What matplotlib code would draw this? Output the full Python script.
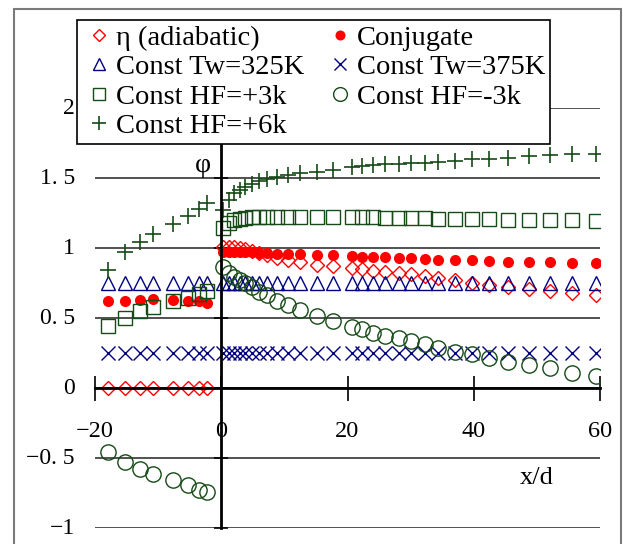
import matplotlib
matplotlib.use("Agg")
import matplotlib.pyplot as plt
from matplotlib.patches import Rectangle

plt.rcParams["font.family"] = ["Liberation Serif", "DejaVu Serif"]

# x/d positions: upstream (before the hole) and downstream
x_up = [-17.9, -15.2, -12.8, -10.8, -7.6, -5.3, -3.6, -2.3]
x_down = [0.3, 1.2, 2.0, 2.9, 3.8, 4.9, 6.0, 7.2, 8.8, 10.6, 12.5, 15.1, 17.7,
          20.7, 22.3, 24.0, 25.9, 28.1, 30.0, 32.3, 34.4, 37.1, 39.7, 42.4,
          45.5, 48.7, 52.0, 55.5, 59.3]

eta_up = [0, 0, 0, 0, 0, 0, 0, 0]
eta_down = [1.01, 1.01, 1.005, 1.0, 0.99, 0.978, 0.962, 0.948, 0.928, 0.912,
            0.898, 0.88, 0.87, 0.855, 0.848, 0.838, 0.831, 0.824, 0.812, 0.797,
            0.785, 0.768, 0.752, 0.738, 0.72, 0.705, 0.692, 0.68, 0.665]

conj_up = [0.62, 0.62, 0.63, 0.635, 0.63, 0.625, 0.62, 0.61]
conj_down = [0.975, 0.975, 0.973, 0.972, 0.97, 0.968, 0.966, 0.963, 0.96,
             0.957, 0.954, 0.951, 0.948, 0.943, 0.938, 0.938, 0.933, 0.928,
             0.926, 0.921, 0.915, 0.914, 0.912, 0.904, 0.902, 0.901, 0.897,
             0.896, 0.895]

tw325_up = [0.75] * 8
tw325_down = [0.75] * 29
tw375_up = [0.25] * 8
tw375_down = [0.25] * 29

hf3_up = [0.44, 0.50, 0.55, 0.58, 0.62, 0.645, 0.67, 0.695]
hf3_down = [1.14, 1.18, 1.20, 1.21, 1.215, 1.218, 1.22, 1.222, 1.222, 1.222,
            1.222, 1.222, 1.222, 1.219, 1.219, 1.219, 1.217, 1.213, 1.212,
            1.212, 1.21, 1.207, 1.205, 1.204, 1.203, 1.2, 1.199, 1.197, 1.193]

hfm3_up = [-0.46, -0.53, -0.575, -0.615, -0.66, -0.695, -0.725, -0.74]
hfm3_down = [0.862, 0.824, 0.795, 0.771, 0.748, 0.719, 0.688, 0.664, 0.624,
             0.593, 0.557, 0.514, 0.481, 0.438, 0.419, 0.395, 0.374, 0.355,
             0.338, 0.312, 0.283, 0.259, 0.24, 0.217, 0.188, 0.164, 0.141,
             0.109, 0.088]

hf6_up = [0.84, 0.975, 1.045, 1.10, 1.17, 1.23, 1.28, 1.32]
hf6_down = [1.27, 1.34, 1.39, 1.414, 1.438, 1.46, 1.478, 1.49, 1.505, 1.52,
            1.535, 1.545, 1.557, 1.576, 1.588, 1.593, 1.598, 1.6, 1.605, 1.609,
            1.616, 1.624, 1.633, 1.635, 1.64, 1.657, 1.664, 1.671, 1.673]

y_ticks = [-1, -0.5, 0, 0.5, 1, 1.5, 2]
y_labels = ["\u22121", "\u22120. 5", "0", "0. 5", "1", "1. 5", "2"]
x_ticks = [-20, 0, 20, 40, 60]
x_labels = ["\u221220", "0", "20", "40", "60"]

red = "#ff0000"
navy = "#000080"
green = "#164a16"

fig = plt.figure(figsize=(6.23, 5.44), dpi=100)
ax = fig.add_axes([95 / 623, 16 / 544, 505 / 623, 420 / 544])

series = [
    ("\u03b7 (adiabatic)", eta_up, eta_down,
     dict(marker="D", ms=6.8, mfc="none", mec=red, mew=1.0)),
    ("Const Tw=325K", tw325_up, tw325_down,
     dict(marker="^", ms=9.5, mfc="none", mec=navy, mew=1.0)),
    ("Const HF=+3k", hf3_up, hf3_down,
     dict(marker="s", ms=9.5, mfc="none", mec=green, mew=1.0)),
    ("Const HF=+6k", hf6_up, hf6_down,
     dict(marker="+", ms=11.5, mec=green, mew=1.2)),
    ("Conjugate", conj_up, conj_down,
     dict(marker="o", ms=8, mfc=red, mec=red, mew=0)),
    ("Const Tw=375K", tw375_up, tw375_down,
     dict(marker="x", ms=9.5, mec=navy, mew=1.0)),
    ("Const HF=-3k", hfm3_up, hfm3_down,
     dict(marker="o", ms=11, mfc="none", mec=green, mew=1.0)),
]

draw_order = [0, 4, 1, 5, 2, 6, 3]
handles = {}
for i in draw_order:
    label, yu, yd, style = series[i]
    h, = ax.plot(x_up + x_down, yu + yd, ls="none", label=label, **style)
    handles[i] = h

ax.set_xlim(-20, 60)
ax.set_ylim(-1, 2)

for s in ["top", "right"]:
    ax.spines[s].set_visible(False)
ax.spines["left"].set_position(("data", 0))
ax.spines["bottom"].set_position(("data", 0))
ax.spines["left"].set_linewidth(2)
ax.spines["bottom"].set_linewidth(2)

ax.set_yticks(y_ticks)
ax.set_yticklabels([])
ax.tick_params(axis="y", direction="inout", length=10, width=1.2)
ax.set_xticks(x_ticks)
ax.set_xticklabels(x_labels, fontsize=17.5)
ax.tick_params(axis="x", direction="inout", length=18, width=1.2, pad=15)
ax.yaxis.grid(True, color="#222222", lw=1.1)
ax.set_axisbelow(True)

for v, t in zip(y_ticks, y_labels):
    ax.text(-0.04, v, t, transform=ax.get_yaxis_transform(), ha="right",
            va="center", fontsize=17)

ax.text(-2.9, 1.59, "\u03c6", ha="center", va="center", fontsize=20)
ax.text(50, -0.64, "x/d", ha="center", va="center", fontsize=19)

leg = ax.legend([handles[i] for i in range(7)], [series[i][0] for i in range(7)],
                ncol=2, loc="upper left", bbox_to_anchor=(77 / 623, 1 - 20 / 544),
                bbox_transform=fig.transFigure, borderaxespad=0, fontsize=20.5,
                frameon=True, fancybox=False, edgecolor="black",
                handlelength=1.2, handletextpad=0.0, columnspacing=0.63,
                labelspacing=0.12, borderpad=0.18, markerscale=0.9)
leg.get_frame().set_linewidth(1.2)
leg.get_frame().set_alpha(1)

fig.patches.append(Rectangle((14 / 623, -0.1), 607 / 623, 1.1 - 9 / 544,
                             transform=fig.transFigure, fill=False,
                             edgecolor="#7a7a7a", lw=1.5))

fig.savefig("out.png", dpi=100)
